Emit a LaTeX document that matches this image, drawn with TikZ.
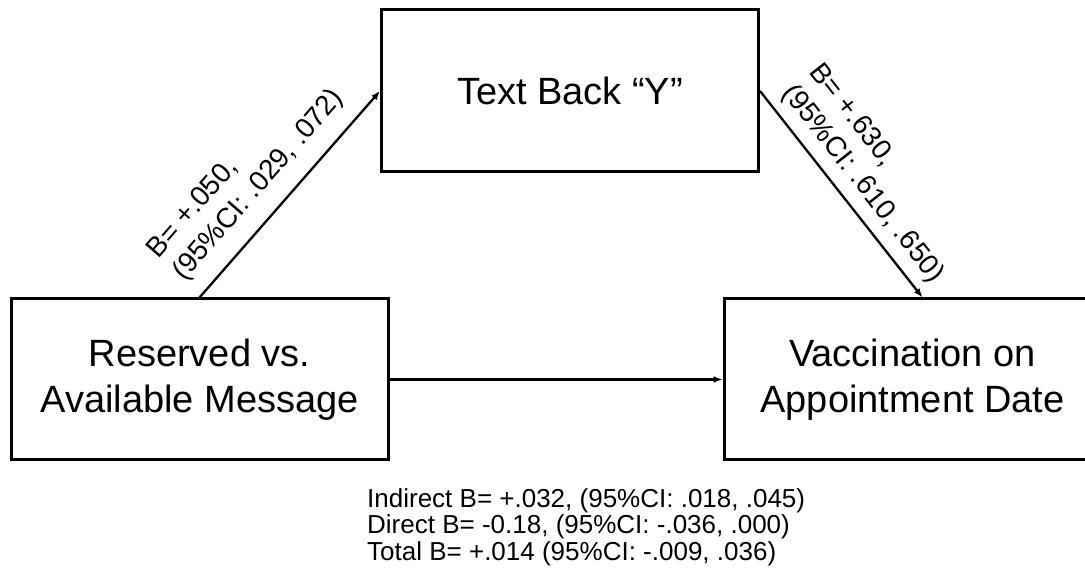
\documentclass[tikz,border=0pt]{standalone}
\usepackage{fontspec}
\setmainfont{Liberation Sans}
\usetikzlibrary{arrows.meta,positioning}

\begin{document}
\begin{tikzpicture}[x=1pt, y=1pt,
  var/.style={rectangle, draw=black, line width=3pt, minimum width=377pt,
              minimum height=161pt, align=center, inner sep=0pt,
              font=\fontsize{38}{46}\selectfont},
  link/.style={-{Latex[length=9pt,width=7pt]}, line width=2.3pt, draw=black},
  est/.style={sloped, align=left, inner sep=2pt,
              font=\fontsize{28}{34}\selectfont}
]
  \useasboundingbox (0,0) rectangle (1085,586);

  \node[var] (resv) at (199.5,206.5) {Reserved vs.\\Available Message};
  \node[var,right=333pt of resv] (vacc) {Vaccination on\\Appointment Date};
  \node[var,minimum height=162pt] (back) at (570,495) {Text Back “Y”};

  \draw[link] (resv.north) -- node[est,above=13pt,pos=0.45]
    {B= +.050,\\(95\%CI: .029, .072)} (back.west);
  \draw[link] (back.east) -- node[est,above=7pt,pos=0.52]
    {B= +.630,\\(95\%CI: .610, .650)} ([xshift=10pt]vacc.north);
  \draw[link] (resv.east) -- (vacc.west);

  % effects summary
  \node[anchor=north west, align=left, inner sep=0pt,
        font=\fontsize{26}{26.7}\selectfont] (sum) at (367,98)
    {Indirect B= +.032, (95\%CI: .018, .045)\\
     Direct B= -0.18, (95\%CI: -.036, .000)\\
     Total B= +.014 (95\%CI: -.009, .036)};
\end{tikzpicture}
\end{document}
